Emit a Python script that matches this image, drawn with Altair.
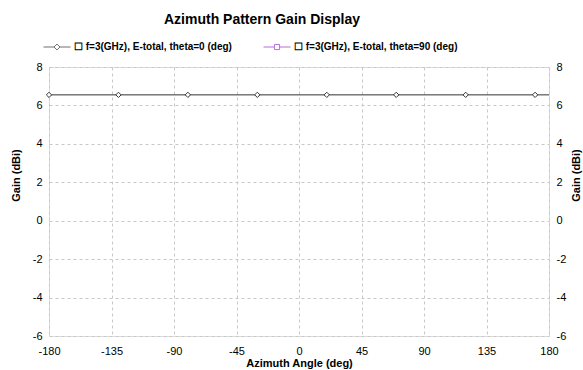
import altair as alt
import pandas as pd

# ---- data ----
series_names = ["f=3(GHz), E-total, theta=0 (deg)", "f=3(GHz), E-total, theta=90 (deg)"]
series_colors = ["#333333", "#9932CC"]

line_angle = [-180, -130, -80, -30, 20, 70, 120, 170, 180]
line_gain = [6.55, 6.55, 6.55, 6.55, 6.55, 6.55, 6.55, 6.55, 6.55]
marker_angle = [-180, -130, -80, -30, 20, 70, 120, 170]
marker_gain = [6.55, 6.55, 6.55, 6.55, 6.55, 6.55, 6.55, 6.55]

x_ticks = [-180, -135, -90, -45, 0, 45, 90, 135, 180]
y_ticks = [-6, -4, -2, 0, 2, 4, 6, 8]

FONT = "Liberation Sans"

line_df = pd.DataFrame({"angle": line_angle, "gain": line_gain})
marker_df = pd.DataFrame({"angle": marker_angle, "gain": marker_gain})
legend_df = pd.DataFrame({"series": series_names})

x_scale = alt.Scale(domain=[-180, 180], nice=False, zero=False)
y_scale = alt.Scale(domain=[-6, 8], nice=False, zero=False)

x_axis = alt.Axis(values=x_ticks, title="Azimuth Angle (deg)", grid=True,
                  gridDash=[3, 3], gridColor="#c8c8c8", domain=False, ticks=False,
                  labelPadding=9, labelFontSize=11, labelFont=FONT, labelColor="#000000",
                  labelExpr="datum.value",
                  titleFont=FONT, titleFontSize=11, titleFontWeight="bold", titleColor="#000000",
                  titlePadding=1, labelFlush=False)

left_axis = alt.Axis(values=y_ticks, title="Gain (dBi)", grid=True, orient="left",
                     gridDash=[3, 3], gridColor="#c8c8c8", domain=False, ticks=False,
                     labelPadding=7, labelFontSize=11, labelFont=FONT, labelColor="#000000",
                     labelExpr="datum.value",
                     titleFont=FONT, titleFontSize=11, titleFontWeight="bold", titleColor="#000000",
                     titleAngle=270, titleX=-33, titleY=108, titleAlign="center",
                     titleBaseline="middle", labelFlush=False)

right_axis = alt.Axis(values=y_ticks, title="Gain (dBi)", grid=False, orient="right",
                      domain=False, ticks=False,
                      labelPadding=7, labelFontSize=11, labelFont=FONT, labelColor="#000000",
                      labelExpr="datum.value",
                      titleFont=FONT, titleFontSize=11, titleFontWeight="bold", titleColor="#000000",
                      titleAngle=270, titleX=27, titleY=108, titleAlign="center",
                      titleBaseline="middle", labelFlush=False)

line = alt.Chart(line_df).mark_line(color=series_colors[0], strokeWidth=1).encode(
    x=alt.X("angle:Q", scale=x_scale, axis=x_axis),
    y=alt.Y("gain:Q", scale=y_scale, axis=left_axis),
)

points = alt.Chart(marker_df).mark_point(
    shape="diamond", size=28, filled=True, fill="#ffffff",
    stroke=series_colors[0], strokeWidth=1, opacity=1
).encode(
    x=alt.X("angle:Q", scale=x_scale, axis=x_axis),
    y=alt.Y("gain:Q", scale=y_scale, axis=right_axis),
)

diamond_path = "M-1,0L-0.22,0M0.22,0L1,0M-0.22,0L0,-0.22L0.22,0L0,0.22Z"
square_path = "M-1,0L-0.19,0M0.19,0L1,0M-0.19,-0.19L0.19,-0.19L0.19,0.19L-0.19,0.19Z"

legend_layer = alt.Chart(legend_df).transform_filter("false").mark_point(filled=False).encode(
    color=alt.Color("series:N", scale=alt.Scale(domain=series_names, range=series_colors),
                    legend=alt.Legend(title=None, orient="none", direction="horizontal",
                                      legendX=-6, legendY=-34, padding=0,
                                      symbolSize=729, symbolStrokeWidth=1,
                                      labelFont=FONT, labelFontSize=10, labelFontWeight="bold",
                                      labelColor="#000000", labelOffset=3, columnPadding=29,
                                      labelExpr="'\u2610 ' + datum.label", labelLimit=400)),
    shape=alt.Shape("series:N", scale=alt.Scale(domain=series_names,
                                                range=[diamond_path, square_path]),
                    legend=None),
)

chart = alt.layer(line, points, legend_layer).resolve_axis(y="independent").properties(
    width=500, height=269,
    title=alt.TitleParams("Azimuth Pattern Gain Display", font=FONT, fontSize=14,
                          fontWeight="bold", color="#000000", anchor="middle", offset=6, dx=-37),
    autosize=alt.AutoSizeParams(type="none"),
    padding={"left": 49, "top": 67, "right": 34, "bottom": 34},
).configure_view(stroke="#333333", strokeWidth=1).configure(background="#ffffff")

chart.save("out.html", embed_options={"renderer": "svg", "actions": False})
